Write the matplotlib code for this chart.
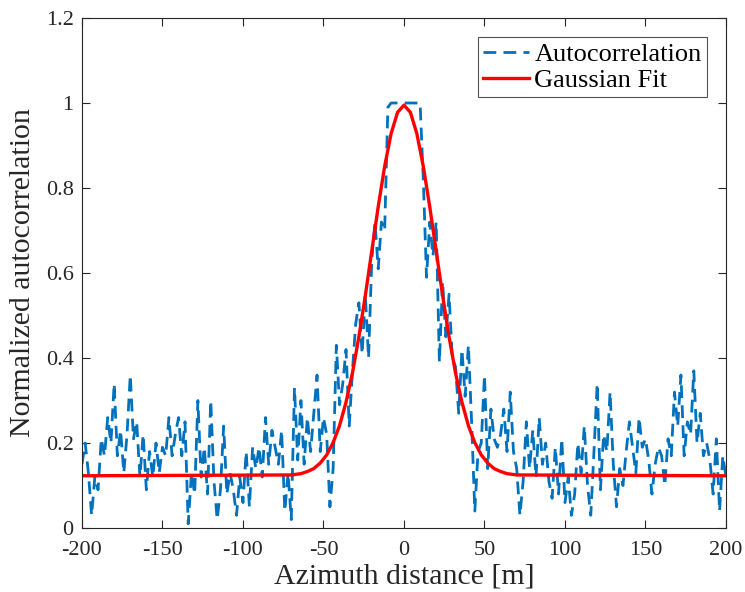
import numpy as np
import matplotlib
matplotlib.use("Agg")
import matplotlib.pyplot as plt

# azimuth lag [m] and normalized autocorrelation (2 m steps)
lag_m = np.arange(-200, 201, 2)
autocorr = [
    0.15, 0.20, 0.13, 0.03, 0.12, 0.09, 0.21, 0.17, 0.26, 0.20,   # -200 .. -182
    0.34, 0.17, 0.23, 0.13, 0.22, 0.36, 0.21, 0.25, 0.12, 0.22,   # -180 .. -162
    0.09, 0.18, 0.12, 0.20, 0.13, 0.19, 0.17, 0.26, 0.17, 0.22,   # -160 .. -142
    0.26, 0.17, 0.25, 0.01, 0.13, 0.08, 0.30, 0.12, 0.19, 0.08,   # -140 .. -122
    0.30, 0.11, 0.02, 0.09, 0.24, 0.08, 0.13, 0.09, 0.03, 0.12,   # -120 .. -102
    0.06, 0.18, 0.05, 0.19, 0.14, 0.19, 0.12, 0.26, 0.15, 0.23,   # -100 .. -82
    0.19, 0.15, 0.23, 0.04, 0.13, 0.02, 0.33, 0.16, 0.30, 0.15,   # -80 .. -62
    0.26, 0.18, 0.27, 0.36, 0.18, 0.26, 0.22, 0.05, 0.14, 0.43,   # -60 .. -42
    0.29, 0.34, 0.42, 0.24, 0.37, 0.48, 0.53, 0.41, 0.55, 0.40,   # -40 .. -22
    0.63, 0.72, 0.61, 0.72, 0.70, 0.99, 1.00, 1.00, 1.00, 1.00,   # -20 .. -2
    1.00,                                                         # 0
    1.00, 1.00, 1.00, 1.00, 1.00, 0.82, 0.59, 0.72, 0.64, 0.72,   # 2 .. 20
    0.39, 0.58, 0.45, 0.55, 0.40, 0.38, 0.27, 0.42, 0.31, 0.43,   # 22 .. 40
    0.25, 0.04, 0.18, 0.20, 0.36, 0.14, 0.28, 0.21, 0.19, 0.22,   # 42 .. 60
    0.28, 0.18, 0.32, 0.18, 0.14, 0.03, 0.11, 0.25, 0.14, 0.23,   # 62 .. 80
    0.12, 0.26, 0.15, 0.20, 0.11, 0.07, 0.19, 0.08, 0.21, 0.06,   # 82 .. 100
    0.12, 0.03, 0.08, 0.20, 0.13, 0.24, 0.10, 0.03, 0.18, 0.34,   # 102 .. 120
    0.09, 0.22, 0.18, 0.32, 0.15, 0.05, 0.14, 0.10, 0.18, 0.25,   # 122 .. 140
    0.19, 0.13, 0.26, 0.19, 0.21, 0.16, 0.08, 0.15, 0.19, 0.17,   # 142 .. 160
    0.10, 0.21, 0.17, 0.32, 0.24, 0.36, 0.17, 0.25, 0.22, 0.37,   # 162 .. 180
    0.20, 0.27, 0.17, 0.20, 0.16, 0.08, 0.21, 0.04, 0.17, 0.12,   # 182 .. 200
]

# gaussian fit curve
fit_x = [-200, -70, -64, -60, -56, -52, -48, -44, -40, -36, -32, -28, -24, -20,
         -16, -12, -8, -4, 0, 4, 8, 12, 16, 20, 24, 28, 32, 36, 40, 44, 48, 52,
         56, 60, 64, 70, 200]
fit_y = [0.123, 0.125, 0.128, 0.133, 0.140, 0.153, 0.172, 0.201, 0.241, 0.296,
         0.365, 0.450, 0.547, 0.652, 0.756, 0.851, 0.928, 0.978, 0.995, 0.978,
         0.928, 0.851, 0.756, 0.652, 0.547, 0.450, 0.365, 0.296, 0.241, 0.201,
         0.172, 0.153, 0.140, 0.133, 0.128, 0.125, 0.123]

plt.rcParams["font.family"] = ["Liberation Serif", "DejaVu Serif"]
plt.rcParams["axes.unicode_minus"] = False

fig = plt.figure(figsize=(7.45, 5.92), dpi=100)
ax = fig.add_axes([0.110, 0.108, 0.8645, 0.8616])

ax.plot(lag_m, autocorr, color="#0072BD", lw=2.0, linestyle=(0, (4.6, 2.6)),
        label="Autocorrelation")
ax.plot(fit_x, fit_y, color="#FF0000", lw=2.4, label="Gaussian Fit")

ax.set_xlim(-200, 200)
ax.set_ylim(0, 1.2)
ax.set_xticks(np.arange(-200, 201, 50))
ax.set_yticks([0, 0.2, 0.4, 0.6, 0.8, 1.0, 1.2])
ax.set_yticklabels(["0", "0.2", "0.4", "0.6", "0.8", "1", "1.2"])
ax.tick_params(direction="in", length=6, width=0.8, top=True, right=True,
               labelsize=16, colors="#262626")
ax.tick_params(axis="x", pad=9)
ax.tick_params(axis="y", pad=6)
for s in ax.spines.values():
    s.set_color("#262626")
    s.set_linewidth(0.8)

ax.set_xlabel("Azimuth distance [m]", fontsize=21.5, color="#262626", labelpad=3)
ax.set_ylabel("Normalized autocorrelation", fontsize=21.5, color="#262626", labelpad=7)

leg = ax.legend(loc="upper right", fontsize=19, frameon=True, fancybox=False,
                handlelength=1.75, borderaxespad=0.72, borderpad=0.2,
                labelspacing=0.1, handletextpad=0.2)
leg.get_frame().set_edgecolor("#262626")
leg.get_frame().set_linewidth(0.8)

fig.savefig("out.png", dpi=100)
